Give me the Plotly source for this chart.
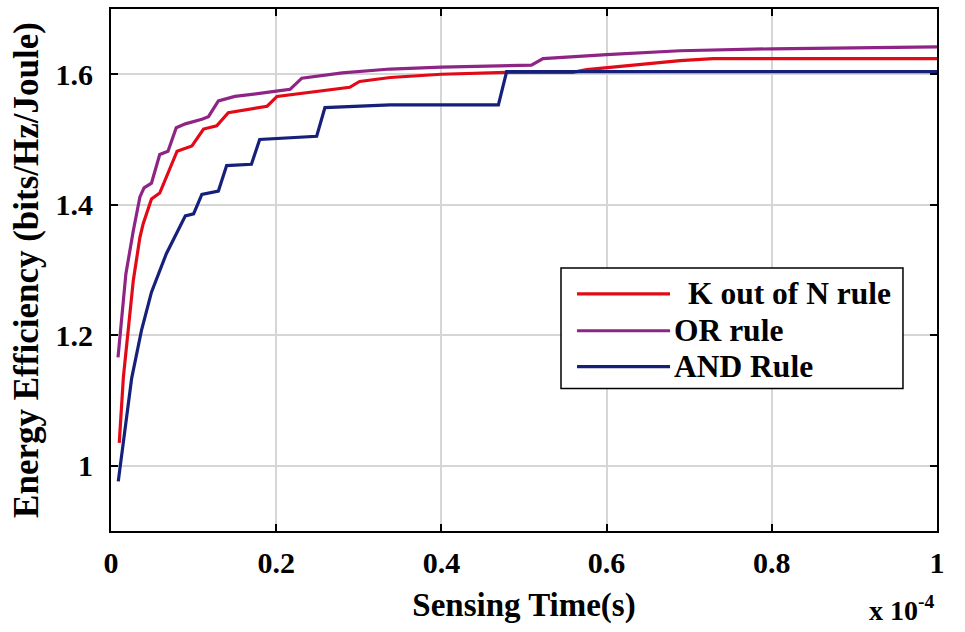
import plotly.graph_objects as go

# Sensing time in units of 1e-4 s, energy efficiency in bits/Hz/Joule
or_t = [0.0085, 0.018, 0.027, 0.035, 0.040, 0.049, 0.059, 0.069, 0.079, 0.090,
        0.110, 0.118, 0.130, 0.150, 0.200, 0.217, 0.231, 0.280, 0.338, 0.400,
        0.509, 0.523, 0.600, 0.689, 0.800, 1.000]
or_ee = [1.166, 1.294, 1.360, 1.412, 1.426, 1.433, 1.477, 1.482, 1.518, 1.524,
         1.531, 1.535, 1.559, 1.566, 1.574, 1.577, 1.594, 1.602, 1.608, 1.611,
         1.614, 1.624, 1.630, 1.636, 1.639, 1.642]

kn_t = [0.010, 0.015, 0.027, 0.035, 0.039, 0.049, 0.059, 0.080, 0.098, 0.112,
        0.128, 0.142, 0.189, 0.201, 0.289, 0.301, 0.338, 0.400, 0.479, 0.559,
        0.576, 0.689, 0.729, 1.000]
kn_ee = [1.035, 1.136, 1.284, 1.350, 1.371, 1.409, 1.418, 1.482, 1.490, 1.516,
         1.521, 1.541, 1.551, 1.566, 1.580, 1.589, 1.595, 1.600, 1.603, 1.603,
         1.607, 1.621, 1.624, 1.624]

and_t = [0.0088, 0.025, 0.037, 0.049, 0.067, 0.090, 0.100, 0.110, 0.130, 0.140,
         0.170, 0.180, 0.249, 0.259, 0.338, 0.469, 0.479, 1.000]
and_ee = [0.976, 1.134, 1.208, 1.266, 1.325, 1.383, 1.386, 1.416, 1.421, 1.460,
          1.462, 1.500, 1.505, 1.549, 1.553, 1.553, 1.604, 1.604]

names = ["K out of N rule", "OR rule", "AND Rule"]
colors = ["#E30A17", "#8E2585", "#15207A"]
series_t = [kn_t, or_t, and_t]
series_ee = [kn_ee, or_ee, and_ee]

x_ticks = [0, 0.2, 0.4, 0.6, 0.8, 1]
x_labels = ["0", "0.2", "0.4", "0.6", "0.8", "1"]
y_ticks = [1, 1.2, 1.4, 1.6]
y_labels = ["1", "1.2", "1.4", "1.6"]

FONT = "Liberation Serif"

fig = go.Figure()
for t, ee, name, c in zip(series_t, series_ee, names, colors):
    fig.add_trace(go.Scatter(x=t, y=ee, mode="lines", name=name,
                             line=dict(color=c, width=3.2), showlegend=False))

axis_common = dict(
    showline=True, linecolor="black", linewidth=2, mirror="ticks",
    ticks="inside", ticklen=7, tickwidth=2, tickcolor="black",
    showgrid=True, gridcolor="#d6d6d6", gridwidth=1.5, zeroline=False,
    tickfont=dict(family=FONT, size=30, color="black", weight="bold"),
)

fig.update_xaxes(range=[0, 1], tickvals=x_ticks, ticktext=x_labels,
                 ticklabelstandoff=4,
                 title=dict(text="<b>Sensing Time(s)</b>", standoff=15,
                            font=dict(family=FONT, size=33, color="black")),
                 **axis_common)
fig.update_yaxes(range=[0.9, 1.7], tickvals=y_ticks, ticktext=y_labels,
                 ticklabelstandoff=10,
                 title=dict(text="<b>Energy Efficiency (bits/Hz/Joule)</b>", standoff=6,
                            font=dict(family=FONT, size=35, color="black")),
                 **axis_common)

# Legend box drawn in paper coordinates
box_x0, box_x1, box_y0, box_y1 = 0.5448, 0.9588, 0.2729, 0.5038
fig.add_shape(type="rect", xref="paper", yref="paper",
              x0=box_x0, x1=box_x1, y0=box_y0, y1=box_y1,
              line=dict(color="black", width=1.5), fillcolor="white")
row_y = [0.4542, 0.3836, 0.3149]
label_x = [0.6961, 0.6792, 0.6792]
for name, c, ry, lx in zip(names, colors, row_y, label_x):
    fig.add_shape(type="line", xref="paper", yref="paper",
                  x0=0.5642, x1=0.6768, y0=ry, y1=ry,
                  line=dict(color=c, width=3.2))
    fig.add_annotation(xref="paper", yref="paper", x=lx, y=ry,
                       xanchor="left", yanchor="middle", showarrow=False,
                       text=f"<b>{name}</b>",
                       font=dict(family=FONT, size=31.5, color="black"))

# Axis multiplier
fig.add_annotation(xref="paper", yref="paper", x=1.0, y=-0.148,
                   xanchor="right", yanchor="middle", showarrow=False,
                   text="<b>x 10<sup>-4</sup></b>",
                   font=dict(family=FONT, size=28, color="black"))

fig.update_layout(
    width=965, height=632,
    margin=dict(l=111, r=28, t=7, b=101),
    paper_bgcolor="white", plot_bgcolor="white",
    font=dict(family=FONT, color="black"),
)

fig.write_html("out.html")
